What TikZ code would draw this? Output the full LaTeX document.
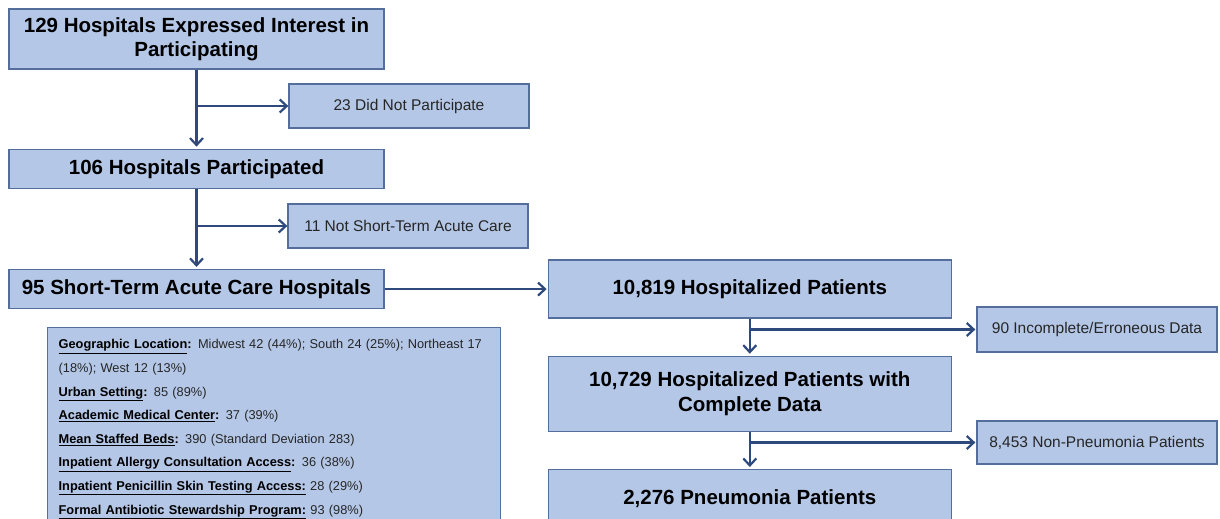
\documentclass[tikz,border=0pt]{standalone}
\usepackage{fontspec}
\setmainfont{Liberation Sans}
\usetikzlibrary{positioning}
\usetikzlibrary{arrows.meta}
\definecolor{boxfill}{RGB}{180,199,231}
\definecolor{boxline}{RGB}{84,110,155}
\definecolor{flowblue}{RGB}{46,74,125}
\definecolor{darktext}{RGB}{38,38,38}
\newcommand{\hdr}[1]{\textcolor{black}{\textbf{#1}}}

\begin{document}
\begin{tikzpicture}[
  x=1pt, y=-1pt,
  node distance=79pt and 163pt,
  mainbox/.style={draw=boxline, fill=boxfill, line width=1.3pt, align=center,
    minimum width=375pt, minimum height=39pt, inner sep=0pt,
    font=\fontsize{20.5}{24}\selectfont\bfseries},
  rightbox/.style={mainbox, minimum width=403pt, minimum height=58pt},
  sidebox/.style={draw=boxline, fill=boxfill, line width=1.3pt,
    minimum width=240pt, minimum height=44pt, inner sep=0pt, text=darktext,
    font=\fontsize{15.5}{18}\selectfont},
  infobox/.style={draw=boxline, fill=boxfill, line width=1.3pt, align=left,
    text width=431pt, inner xsep=11pt, inner ysep=12pt, text=darktext,
    font=\fontsize{12.8}{23.6}\selectfont},
  flow/.style={draw=flowblue, line width=2.2pt, -{Straight Barb[length=7pt,width=13pt]}}
]
\clip (0,0) rectangle (1220,519);

% hospitals
\node[mainbox, minimum height=60pt] (expr) at (196.5,39) {129 Hospitals Expressed Interest in\\ Participating};
\node[mainbox, below=of expr] (part) {106 Hospitals Participated};
\node[mainbox, below=80pt of part] (acute) {95 Short-Term Acute Care Hospitals};

\node[sidebox] (notpart) at (409,106) {23 Did Not Participate};
\node[sidebox] (notacute) at (408,226) {11 Not Short-Term Acute Care};

\node[infobox, anchor=north west] (stats) at (47,327) {%
  \hdr{\underline{Geographic Location}:} Midwest 42 (44\%); South 24 (25\%); Northeast 17\\
  (18\%); West 12 (13\%)\\
  \hdr{\underline{Urban Setting}:} 85 (89\%)\\
  \hdr{\underline{Academic Medical Center}:} 37 (39\%)\\
  \hdr{\underline{Mean Staffed Beds}:} 390 (Standard Deviation 283)\\
  \hdr{\underline{Inpatient Allergy Consultation Access}:} 36 (38\%)\\
  \hdr{\underline{Inpatient Penicillin Skin Testing Access:}} 28 (29\%)\\
  \hdr{\underline{Formal Antibiotic Stewardship Program:}} 93 (98\%)};

% patients
\node[rightbox, right=of acute] (hosp) {10,819 Hospitalized Patients};
\node[rightbox, minimum height=75pt, below=37pt of hosp] (compl) {10,729 Hospitalized Patients with\\[1pt] Complete Data};
\node[rightbox, below=37pt of compl] (pneu) {2,276 Pneumonia Patients};

\node[sidebox, minimum height=45pt] (incompl) at (1097,329.5) {90 Incomplete/Erroneous Data};
\node[sidebox, minimum height=43pt] (nonpneu) at (1097,442.5) {8,453 Non-Pneumonia Patients};

\coordinate (b1) at (expr.south |- notpart.west);
\coordinate (b2) at (part.south |- notacute.west);
\coordinate (b3) at (hosp.south |- incompl.west);
\coordinate (b4) at (compl.south |- nonpneu.west);

\draw[flow, shorten >=2pt] (expr) -- (part);
\draw[flow, shorten >=2pt] (part) -- (acute);
\draw[flow] (b1) -- (notpart);
\draw[flow] (b2) -- (notacute);
\draw[flow, shorten >=1pt] (acute) -- (hosp);
\draw[flow, shorten >=2pt] (hosp) -- (compl);
\draw[flow, shorten >=2pt] (compl) -- (pneu);
\draw[flow, shorten >=1pt] (b3) -- (incompl);
\draw[flow, shorten >=1pt] (b4) -- (nonpneu);

\end{tikzpicture}
\end{document}
